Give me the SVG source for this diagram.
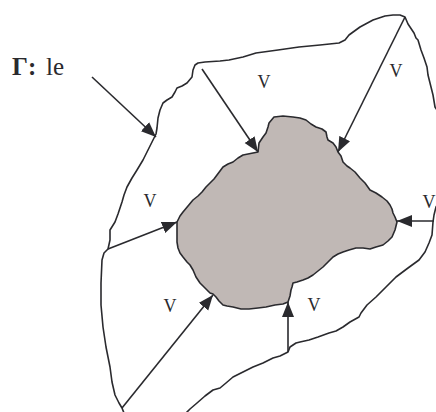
<svg xmlns="http://www.w3.org/2000/svg" width="436" height="412" viewBox="0 0 436 412">
<style>
.ln{fill:none;stroke:#2a2a2e;stroke-width:1.6;stroke-linejoin:round;stroke-linecap:round}
.ar{fill:none;stroke:#2a2a2e;stroke-width:1.6;marker-end:url(#ah)}
.v{font-family:"Liberation Serif","Times New Roman",serif;font-size:18px;fill:#2a2a2e;text-anchor:middle}
.lbl{font-family:"Liberation Serif","Times New Roman",serif;font-size:25px;fill:#2a2a2e}
</style>
<defs>
<marker id="ah" markerUnits="userSpaceOnUse" markerWidth="16" markerHeight="13" refX="15" refY="6.5" orient="auto">
<path d="M0,0.5 L15,6.5 L0,12.5 Z" fill="#2a2a2e"/>
</marker>
</defs>
<rect width="436" height="412" fill="#fff"/>
<g id="outer">
<polyline class="ln" points="124,413 122,408 119,403 115,395 112,382 110,367 106,347 103,327 101,305 101,283 102,260 104,253 108,249 110,240 110,230 115,222 118,214 122,202 124,195 127,187 132,178 137,170 143,160 148,150 153,140 156,134 157,128 158,118 160,110 163,103 167,100 172,97 175,92 177,88 182,86 187,83 192,77 193,70 195,65 198,63 205,62 220,61 229,60 243,57 256,53 278,50 299,47 320,45 339,43 345,40 349,35 360,27 373,20 385,16 393,15 400,15 405,17 408,24 410,27 414,33 416,38 418,40 421,50 424,58 427,67 428,75 430,83 433,95 435,107 440,115 440,200 436,207 434,215 433,222 432,235 429,243 425,252 419,260 408,268 396,277 386,287 376,297 367,305 361,313 359,317 350,322 343,327 336,331 329,333 318,337 309,340 300,342 296,343 290,347 288,352 280,356 273,358 263,363 253,367 243,372 233,377 226,383 220,388 213,390 205,396 197,403 190,409 186,413"/>
</g>
<g id="inner">
<path d="M258,152 L259,143 L263,137 L266,133 L268,127 L269,123 L274,117 L283,116 L293,117 L300,118 L306,120 L311,124 L316,127 L322,129 L326,132 L327,137 L328,140 L333,143 L336,147 L338,152 L341,156 L343,162 L347,166 L350,168 L355,172 L360,178 L365,183 L370,190 L376,193 L382,197 L387,201 L390,205 L392,209 L393,213 L395,217 L397,222 L396,226 L395,230 L392,237 L388,241 L383,245 L376,247 L370,249 L363,248 L356,248 L349,250 L343,252 L338,254 L333,257 L328,262 L323,267 L318,271 L313,275 L308,278 L303,280 L297,282 L293,283 L292,287 L291,290 L290,296 L288,302 L283,304 L275,305 L266,307 L258,308 L249,309 L241,309 L233,307 L227,306 L223,305 L219,301 L216,297 L213,294 L210,293 L205,288 L200,283 L196,277 L193,270 L190,265 L187,262 L183,257 L180,253 L178,248 L177,242 L177,232 L177,222 L180,216 L183,212 L188,206 L193,200 L198,196 L202,192 L206,187 L210,183 L214,179 L217,175 L220,171 L223,167 L228,164 L233,162 L238,158 L243,155 L248,154 L253,153 Z" fill="#c0b8b5" stroke="#2a2a2e" stroke-width="1.6" stroke-linejoin="round"/>
</g>
<g id="connectors">
<line class="ar" x1="92" y1="77" x2="156" y2="137"/>
<line class="ar" x1="202" y1="69" x2="258" y2="152"/>
<line class="ar" x1="405" y1="17" x2="338" y2="152"/>
<line class="ar" x1="108" y1="249" x2="177" y2="222"/>
<line class="ar" x1="122" y1="408" x2="213" y2="295"/>
<line class="ar" x1="288" y1="352" x2="288" y2="302"/>
<line class="ar" x1="434" y1="221" x2="397" y2="221"/>
</g>
<g id="labels">
<text class="lbl" x="12" y="75"><tspan font-weight="bold">Γ:</tspan><tspan x="46">le</tspan></text>
<text class="v" x="264" y="88">V</text>
<text class="v" x="396" y="77">V</text>
<text class="v" x="150" y="207">V</text>
<text class="v" x="170" y="312">V</text>
<text class="v" x="314" y="311">V</text>
<text class="v" x="429" y="208">V</text>
</g>
</svg>
